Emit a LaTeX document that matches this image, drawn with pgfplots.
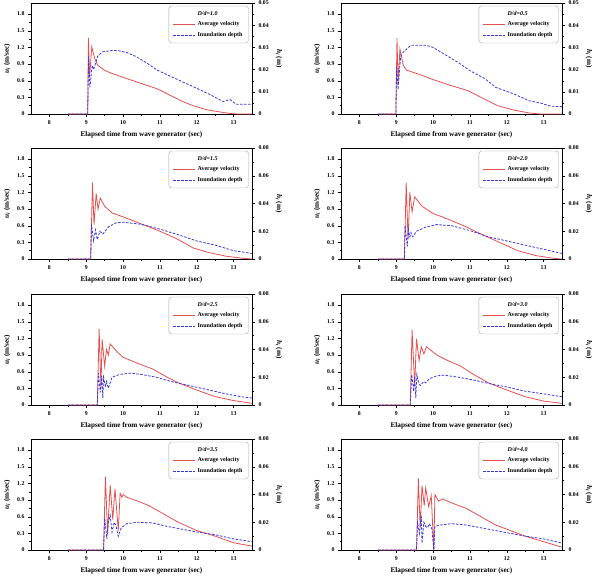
\documentclass[border=0pt]{standalone}
\usepackage{fontspec}
\setmainfont{Liberation Serif}
\usepackage{pgfplots}
\usepackage{pgfplotstable}
\pgfplotsset{compat=1.18}
\definecolor{velred}{RGB}{228,80,80}
\definecolor{depblue}{RGB}{55,55,225}

\tikzset{
 vel/.style={velred, line width=0.8pt, solid},
 dep/.style={depblue, line width=0.8pt, dash pattern=on 2.5pt off 1.5pt},
}
\pgfplotsset{
 panelbase/.style={
  scale only axis, width=221pt, height=111pt,
  xmin=7.5, xmax=13.5, ymin=0, ymax=2.0,
  xtick={8,9,10,11,12,13}, minor x tick num=1,
  ytick={0,0.3,0.6,0.9,1.2,1.5,1.8}, minor y tick num=1,
  tick align=outside, tick style={black, thin},
  major tick length=3pt, minor tick length=1.5pt,
  /pgf/number format/assume math mode=true,
  ticklabel style={font=\fontsize{5.8}{6.5}\selectfont\bfseries},
  label style={font=\fontsize{7.2}{8}\selectfont\bfseries},
 },
}

\pgfplotstableread{
x y
8.5 0
9.04 0
9.06 1.37
9.09 0.66
9.15 1.21
9.23 1.0
9.31 0.88
9.49 0.79
9.66 0.74
10.0 0.66
10.4 0.57
10.9 0.46
11.0 0.43
11.3 0.33
11.6 0.23
11.9 0.15
12.25 0.08
12.6 0.04
12.9 0.01
13.1 0
13.5 0
}\velA
\pgfplotstableread{
x y
8.5 0
9.04 0
9.06 0.026
9.1 0.012
9.16 0.022
9.2 0.02
9.31 0.026
9.44 0.028
9.7 0.0286
9.85 0.0286
10.1 0.0277
10.35 0.0259
10.65 0.0229
10.91 0.0199
11.3 0.0169
11.69 0.0139
12.0 0.0116
12.38 0.0086
12.72 0.0056
12.9 0.0065
13.07 0.0044
13.5 0.0044
}\depA
\pgfplotstableread{
x y
8.5 0
8.99 0
9.02 1.37
9.05 0.55
9.10 1.17
9.19 0.88
9.28 0.79
9.6 0.72
10.0 0.62
10.5 0.51
10.95 0.42
11.3 0.3
11.75 0.15
12.2 0.07
12.6 0.02
12.9 0
13.5 0
}\velB
\pgfplotstableread{
x y
8.5 0
8.99 0
9.01 0.021
9.05 0.011
9.08 0.018
9.12 0.026
9.2 0.028
9.4 0.031
9.8 0.031
10.0 0.030
10.3 0.027
10.7 0.023
11.0 0.0195
11.4 0.016
11.7 0.012
12.2 0.009
12.6 0.006
12.9 0.005
13.2 0.0035
13.5 0.0033
}\depB
\pgfplotstableread{
x y
8.5 0
9.12 0
9.17 1.38
9.21 0.62
9.27 1.18
9.32 0.9
9.38 1.1
9.5 0.95
9.7 0.83
10.0 0.76
10.5 0.63
11.0 0.5
11.5 0.35
11.9 0.2
12.3 0.12
12.8 0.05
13.3 0.01
13.5 0
}\velC
\pgfplotstableread{
x y
8.5 0
9.12 0
9.14 0.025
9.2 0.013
9.25 0.021
9.3 0.014
9.37 0.02
9.45 0.018
9.6 0.023
9.8 0.026
10.0 0.0265
10.5 0.025
11.0 0.0215
11.5 0.0175
12.0 0.013
12.5 0.01
13.0 0.006
13.5 0.004
}\depC
\pgfplotstableread{
x y
8.5 0
9.22 0
9.27 1.38
9.32 0.35
9.37 1.2
9.43 0.85
9.5 1.12
9.7 0.95
10.0 0.82
10.4 0.72
10.9 0.58
11.3 0.45
11.8 0.3
12.3 0.15
12.8 0.06
13.3 0.01
13.5 0
}\velD
\pgfplotstableread{
x y
8.5 0
9.22 0
9.24 0.024
9.3 0.009
9.33 0.021
9.37 0.016
9.4 0.019
9.45 0.016
9.55 0.02
9.8 0.023
10.1 0.0248
10.5 0.024
11.0 0.0205
11.5 0.016
12.0 0.013
12.5 0.01
13.0 0.007
13.5 0.004
}\depD
\pgfplotstableread{
x y
8.5 0
9.3 0
9.35 1.37
9.4 0.3
9.43 1.18
9.5 0.7
9.55 1.0
9.6 0.9
9.65 1.1
9.85 0.95
10.0 0.86
10.4 0.75
10.8 0.65
11.2 0.5
11.5 0.4
12.0 0.27
12.5 0.15
13.0 0.08
13.5 0.03
}\velE
\pgfplotstableread{
x y
8.5 0
9.3 0
9.33 0.023
9.38 0.009
9.42 0.021
9.45 0.005
9.47 0.02
9.52 0.013
9.55 0.017
9.6 0.012
9.7 0.02
9.9 0.022
10.2 0.023
10.5 0.022
10.9 0.02
11.3 0.017
11.8 0.014
12.3 0.011
12.8 0.008
13.2 0.006
13.5 0.005
}\depE
\pgfplotstableread{
x y
8.5 0
9.38 0
9.43 1.35
9.5 0.35
9.55 1.19
9.62 0.8
9.68 1.05
9.75 0.92
9.82 1.05
10.1 0.9
10.4 0.8
10.75 0.7
11.1 0.55
11.5 0.4
12.0 0.27
12.5 0.15
13.0 0.07
13.5 0.03
}\velF
\pgfplotstableread{
x y
8.5 0
9.38 0
9.42 0.022
9.47 0.01
9.5 0.02
9.53 0.005
9.56 0.022
9.6 0.017
9.65 0.014
9.75 0.017
9.8 0.016
9.9 0.019
10.1 0.021
10.3 0.0215
10.7 0.02
11.1 0.018
11.6 0.015
12.0 0.013
12.5 0.01
13.0 0.008
13.5 0.006
}\depF
\pgfplotstableread{
x y
8.5 0
9.47 0
9.52 1.32
9.58 0.3
9.65 1.17
9.72 0.55
9.78 1.1
9.87 0.35
9.92 1.02
9.97 0.95
10.0 1.0
10.1 0.95
10.4 0.88
10.7 0.8
11.1 0.65
11.5 0.5
12.0 0.35
12.5 0.25
13.0 0.13
13.5 0.07
}\velG
\pgfplotstableread{
x y
8.5 0
9.47 0
9.5 0.023
9.56 0.008
9.6 0.02
9.65 0.025
9.7 0.013
9.76 0.02
9.8 0.018
9.87 0.01
9.95 0.016
10.1 0.019
10.4 0.02
10.8 0.0195
11.2 0.017
11.6 0.015
12.0 0.013
12.5 0.011
13.0 0.008
13.5 0.006
}\depG
\pgfplotstableread{
x y
8.5 0
9.55 0
9.6 1.29
9.65 0.4
9.7 1.16
9.76 0.8
9.8 1.12
9.88 0.78
9.95 0.98
10.02 0
10.05 1.0
10.15 0.88
10.25 0.92
10.5 0.85
10.9 0.75
11.3 0.6
11.7 0.45
12.1 0.35
12.5 0.25
13.0 0.15
13.5 0.05
}\velH
\pgfplotstableread{
x y
8.5 0
9.55 0
9.58 0.02
9.63 0.012
9.68 0.025
9.7 0.005
9.75 0.02
9.8 0.017
9.85 0.016
9.9 0.019
9.97 0.015
10.02 0
10.05 0.017
10.2 0.018
10.5 0.019
10.9 0.018
11.3 0.016
11.7 0.014
12.1 0.012
12.5 0.01
13.0 0.008
13.5 0.005
}\depH

\newcommand{\panel}[7]{%
\begin{axis}[panelbase, at={(#1pt,#2pt)}, anchor=north west,
  xtick pos=bottom, ytick pos=left,
  xlabel={Elapsed time from wave generator (sec)},
  ylabel={\textit{u}\textsubscript{\textit{i}} (m/sec)},
  yticklabel style={/pgf/number format/fixed}]
 \addplot[vel] table {#4};
\end{axis}
\begin{axis}[panelbase, at={(#1pt,#2pt)}, anchor=north west,
  axis x line=none, axis y line*=right, ymax=#6, ytick={#7},
  yticklabel style={/pgf/number format/fixed, /pgf/number format/precision=2},
  scaled y ticks=false,
  ylabel={\textit{h}\textsubscript{\textit{i}} (m)}, ylabel style={rotate=180},
  legend cell align=left,
  legend style={at={(0.985,0.975)}, anchor=north east, draw=gray!70,
    rounded corners=3pt, font=\fontsize{6}{7}\selectfont\bfseries,
    inner xsep=4pt, inner ysep=3pt, row sep=1pt}]
 \addlegendimage{empty legend}\addlegendentry{\textit{#3}\rule[-6pt]{0pt}{6pt}}
 \addlegendimage{legend image code/.code={\draw[vel] (0pt,0pt) -- (22pt,0pt);}}
 \addlegendentry{Average velocity}
 \addplot[dep, legend image code/.code={\draw[dep] (0pt,0pt) -- (22pt,0pt);}] table {#5};
 \addlegendentry{Inundation depth}
\end{axis}}

\begin{document}
\begin{tikzpicture}
\useasboundingbox (0,0) rectangle (598pt,-576pt);
\panel{31}{-3}{D/d=1.0}{\velA}{\depA}{0.05}{0,0.01,0.02,0.03,0.04,0.05}
\panel{341}{-3}{D/d=0.5}{\velB}{\depB}{0.05}{0,0.01,0.02,0.03,0.04,0.05}
\panel{31}{-148}{D/d=1.5}{\velC}{\depC}{0.08}{0,0.02,0.04,0.06,0.08}
\panel{341}{-148}{D/d=2.0}{\velD}{\depD}{0.08}{0,0.02,0.04,0.06,0.08}
\panel{31}{-294}{D/d=2.5}{\velE}{\depE}{0.08}{0,0.02,0.04,0.06,0.08}
\panel{341}{-294}{D/d=3.0}{\velF}{\depF}{0.08}{0,0.02,0.04,0.06,0.08}
\panel{31}{-439}{D/d=3.5}{\velG}{\depG}{0.08}{0,0.02,0.04,0.06,0.08}
\panel{341}{-439}{D/d=4.0}{\velH}{\depH}{0.08}{0,0.02,0.04,0.06,0.08}
\end{tikzpicture}
\end{document}
